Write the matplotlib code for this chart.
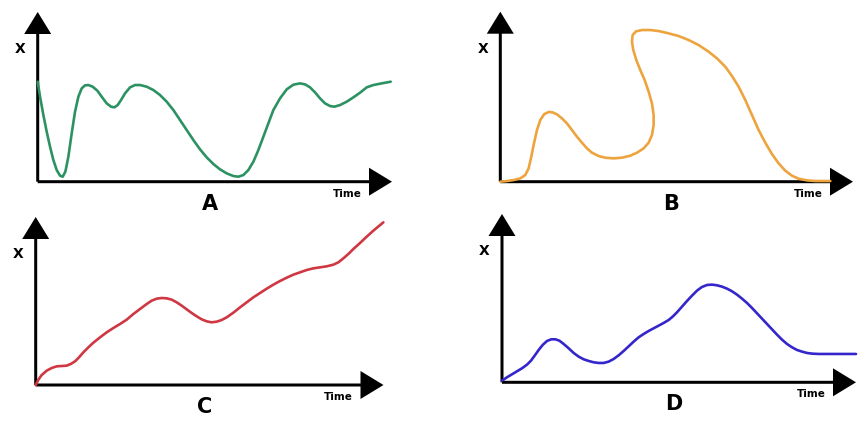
import matplotlib
matplotlib.use("Agg")
import matplotlib.pyplot as plt
from matplotlib.patches import FancyArrow

# ---- data (arbitrary panel units: time, X) ----
a_time = [0, 7, 17, 27, 37, 47, 57, 67, 75, 83, 92, 102, 112, 122, 132, 142, 152, 165, 179, 192,
          207, 220, 230, 240, 250, 262, 277, 292, 307, 327, 347, 367, 387, 407, 427, 447, 467,
          487, 507, 527, 547, 567, 587, 602, 617, 632, 647, 662, 677, 692, 707, 727, 747, 767,
          787, 802, 817, 832, 847, 862, 877, 890, 907, 927, 947, 967, 987, 1007, 1032, 1059]
a_x = [300, 255, 200, 150, 105, 65, 35, 18, 15, 30, 75, 145, 210, 255, 280, 289, 290, 285, 273,
       255, 235, 225, 223, 230, 245, 265, 283, 290, 290, 285, 275, 260, 240, 215, 185, 155, 125,
       97, 73, 53, 37, 25, 17, 15, 20, 35, 60, 95, 135, 175, 215, 250, 277, 291, 295, 292, 283,
       268, 250, 235, 227, 225, 230, 240, 253, 267, 283, 290, 295, 300]

b_time = [0, 20, 40, 60, 75, 85, 93, 101, 110, 120, 132, 145, 157, 170, 185, 200, 215, 230, 245,
          260, 275, 295, 315, 340, 365, 390, 410, 430, 445, 455, 460, 460, 455, 445, 433, 420,
          408, 399, 395, 397, 407, 425, 450, 475, 505, 535, 565, 595, 625, 650, 675, 695, 715,
          735, 755, 775, 795, 815, 835, 855, 875, 895, 920, 945, 990]
b_x = [0, 2, 5, 10, 20, 40, 75, 115, 155, 185, 203, 209, 208, 202, 190, 175, 155, 135, 117, 100,
       87, 77, 72, 70, 72, 78, 87, 100, 117, 140, 170, 200, 235, 270, 305, 335, 365, 395, 420,
       440, 451, 455, 455, 452, 445, 437, 425, 410, 390, 370, 345, 317, 285, 245, 200, 155, 117,
       83, 55, 33, 18, 9, 4, 2, 2]

c_time = [0, 8, 18, 33, 48, 63, 78, 93, 105, 118, 130, 143, 158, 173, 193, 213, 233, 253, 273,
          293, 313, 333, 348, 363, 378, 393, 408, 423, 438, 453, 468, 483, 498, 513, 528, 543,
          558, 573, 593, 613, 633, 653, 673, 693, 713, 733, 753, 773, 793, 813, 833, 853, 873,
          893, 908, 923, 938, 953, 973, 993, 1013, 1043]
c_x = [0, 16, 30, 43, 51, 56, 57, 58, 63, 71, 83, 98, 113, 127, 143, 158, 171, 183, 196, 213,
       228, 243, 253, 259, 261, 260, 256, 248, 238, 227, 216, 206, 197, 191, 188, 190, 195, 203,
       217, 233, 248, 263, 276, 289, 301, 312, 322, 331, 338, 345, 350, 353, 356, 361, 368, 380,
       393, 408, 426, 445, 463, 488]

d_time = [0, 15, 30, 45, 60, 75, 87, 98, 110, 122, 135, 148, 160, 172, 185, 200, 215, 230, 245,
          260, 275, 290, 305, 320, 335, 350, 365, 380, 395, 410, 425, 440, 455, 470, 485, 500,
          512, 525, 540, 555, 570, 585, 600, 615, 630, 645, 660, 675, 690, 705, 720, 735, 750,
          765, 780, 795, 810, 825, 840, 855, 870, 885, 900, 915, 930, 950, 990, 1062]
d_x = [5, 15, 24, 33, 42, 53, 65, 80, 97, 112, 124, 129, 129, 125, 115, 102, 88, 77, 69, 64, 60,
       58, 58, 62, 70, 81, 94, 108, 122, 135, 145, 154, 162, 170, 178, 187, 197, 210, 227, 244,
       260, 275, 286, 292, 293, 291, 287, 281, 273, 263, 251, 238, 223, 207, 191, 175, 159, 143,
       128, 115, 105, 97, 92, 88, 86, 85, 85, 85]

panel_labels = ["A", "B", "C", "D"]
axis_label_y = "X"
axis_label_x = "Time"

# ---- layout (pixels) ----
W, H = 865, 428
S = 3.0  # data units per pixel
fig = plt.figure(figsize=(W / 100, H / 100), dpi=100)
fig.patch.set_facecolor("white")

panels = [
    dict(ox=37.7, oy=181.7, xt=392, yt=12, color="#2c9262", t=a_time, v=a_x),
    dict(ox=500.3, oy=181.7, xt=853, yt=11.7, color="#eda43e", t=b_time, v=b_x),
    dict(ox=35.7, oy=385, xt=383.5, yt=217, color="#cf3743", t=c_time, v=c_x),
    dict(ox=502, oy=382.3, xt=856, yt=214, color="#3526cc", t=d_time, v=d_x),
]

for p, lab in zip(panels, panel_labels):
    w = p["xt"] - p["ox"]
    h = p["oy"] - p["yt"]
    ax = fig.add_axes([p["ox"] / W, (H - p["oy"]) / H, w / W, h / H])
    ax.set_xlim(0, w * S)
    ax.set_ylim(0, h * S)
    ax.axis("off")
    ax.add_patch(FancyArrow(0, 0, w * S, 0, width=3 * S, head_width=28 * S,
                            head_length=23 * S, length_includes_head=True,
                            color="black", lw=0, clip_on=False, zorder=3))
    ax.add_patch(FancyArrow(0, 0, 0, h * S, width=3 * S, head_width=27 * S,
                            head_length=22 * S, length_includes_head=True,
                            color="black", lw=0, clip_on=False, zorder=3))
    ax.plot(p["t"], p["v"], color=p["color"], lw=1.9, solid_joinstyle="round",
            solid_capstyle="round", clip_on=False, zorder=4)
    ax.text(-17.5 * S, (h - 37) * S, axis_label_y, ha="center", va="center",
            fontsize=10, fontweight="bold", family="DejaVu Sans", clip_on=False)
    ax.text((w - 45) * S, -12 * S, axis_label_x, ha="center", va="center",
            fontsize=7.5, fontweight="bold", family="DejaVu Sans", clip_on=False)
    ax.text(w * 0.485 * S, -22 * S, lab, ha="center", va="center", fontsize=15,
            fontweight="bold", family="DejaVu Sans", clip_on=False)

fig.savefig("out.png", dpi=100, facecolor="white")
